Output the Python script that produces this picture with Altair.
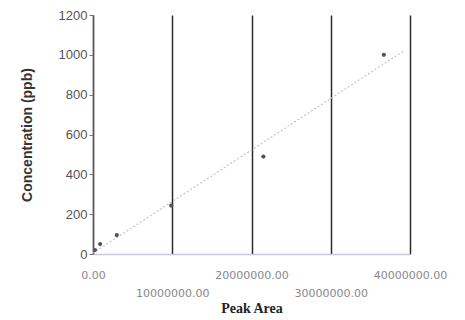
import altair as alt
import pandas as pd

peak_area = [250000, 900000, 3000000, 9870000, 21500000, 36700000]
concentration = [20, 50, 95, 243, 489, 1000]
x_ticks = [0, 10000000, 20000000, 30000000, 40000000]
y_ticks = [0, 200, 400, 600, 800, 1000, 1200]
trend_extent = [0, 39200000]

df = pd.DataFrame({"area": peak_area, "conc": concentration})

xscale = alt.Scale(domain=[0, 40000000], nice=False, zero=True)
yscale = alt.Scale(domain=[0, 1200], nice=False)

x_axis = alt.Axis(
    title="Peak Area",
    values=x_ticks,
    labelExpr="datum.index*4 % 2 == 1 ? ['', format(datum.value, '.2f')] : format(datum.value, '.2f')",
    labelFont="DejaVu Sans",
    labelFontSize=11,
    labelColor="#888888",
    labelLineHeight=18,
    labelPadding=15,
    labelOverlap=False,
    labelFlush=False,
    ticks=False,
    domainColor="#c8c8e0",
    domainWidth=1.5,
    grid=True,
    gridColor="#2a2a2a",
    gridWidth=1.5,
    titleFont="Liberation Serif",
    titleFontSize=14,
    titleFontWeight="bold",
    titleColor="#222222",
    titlePadding=3,
)

y_axis = alt.Axis(
    title="Concentration (ppb)",
    values=y_ticks,
    format="d",
    labelFont="Liberation Sans",
    labelFontSize=13,
    labelColor="#555555",
    labelPadding=2,
    labelOverlap=False,
    tickSize=4,
    tickColor="#777777",
    domainColor="#555555",
    domainWidth=1.2,
    grid=False,
    titleFont="Liberation Sans",
    titleFontSize=14,
    titleFontWeight="bold",
    titleColor="#333333",
    titlePadding=24,
)

points = alt.Chart(df).mark_circle(size=18, color="#555555", opacity=1).encode(
    x=alt.X("area:Q", scale=xscale, axis=x_axis),
    y=alt.Y("conc:Q", scale=yscale, axis=y_axis),
)

trend = alt.Chart(df).transform_regression(
    "area", "conc", extent=trend_extent
).mark_line(color="#c4c4c4", strokeDash=[2, 2], strokeWidth=1.2).encode(
    x=alt.X("area:Q", scale=xscale, axis=x_axis),
    y=alt.Y("conc:Q", scale=yscale, axis=y_axis),
)

chart = alt.layer(trend, points).properties(
    width=317,
    height=239,
    background="white",
    autosize=alt.AutoSizeParams(type="none"),
    padding={"left": 85, "top": 7, "right": 40, "bottom": 80},
).configure_view(stroke=None)

chart.save("out.html", embed_options={"renderer": "svg", "actions": False})
